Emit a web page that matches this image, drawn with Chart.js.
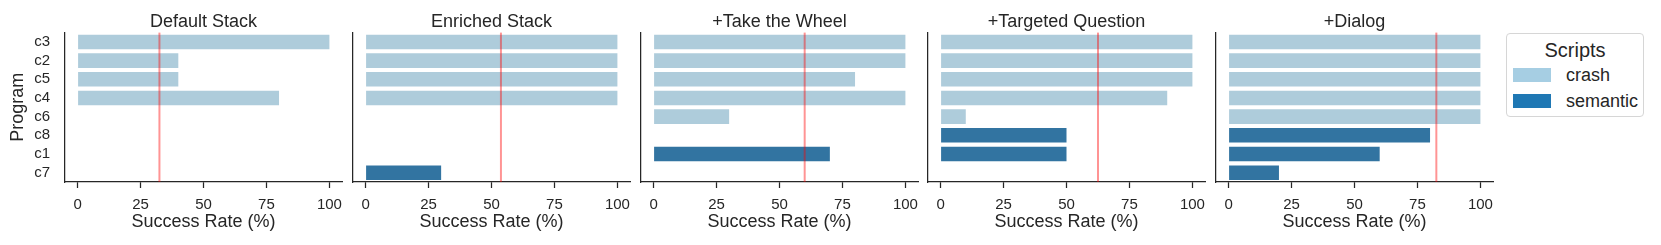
<!DOCTYPE html>
<html>
<head>
<meta charset="utf-8">
<script src="https://cdn.jsdelivr.net/npm/chart.js@4.4.0/dist/chart.umd.min.js"></script>
<style>
  body { margin: 0; background: #fff; width: 1661px; height: 245px; position: relative; overflow: hidden;
         font-family: 'Liberation Sans', Arial, sans-serif; color: #262626; }
  canvas { position: absolute; top: 0; }
  #legend { position: absolute; left: 1506px; top: 33px; width: 138px; height: 84px;
            border: 1px solid #d6d6d6; border-radius: 4px; box-sizing: border-box; }
  #legend .ttl { position: absolute; left: 0; right: 0; top: 4px; text-align: center; font-size: 20px; line-height: 24px; }
  #legend .row { position: absolute; left: 6px; height: 20px; font-size: 18px; line-height: 20px; }
  #legend .sw { position: absolute; left: 0; top: 3px; width: 38px; height: 14px; }
  #legend .lb { position: absolute; left: 53px; top: 0; white-space: nowrap; }
</style>
</head>
<body>
<div id="legend">
  <div class="ttl">Scripts</div>
</div>
<script>
// data
const programs = ['c3', 'c2', 'c5', 'c4', 'c6', 'c8', 'c1', 'c7'];
const scriptType = ['crash', 'crash', 'crash', 'crash', 'crash', 'semantic', 'semantic', 'semantic'];
const scriptKinds = ['crash', 'semantic'];
const panelTitles = ['Default Stack', 'Enriched Stack', '+Take the Wheel', '+Targeted Question', '+Dialog'];
const defaultStack = [100, 40, 40, 80, 0, 0, 0, 0];
const enrichedStack = [100, 100, 100, 100, 0, 0, 0, 30];
const takeTheWheel = [100, 100, 80, 100, 30, 0, 70, 0];
const targetedQuestion = [100, 100, 100, 90, 10, 50, 50, 0];
const dialog = [100, 100, 100, 100, 100, 80, 60, 20];
const xTicks = [0, 25, 50, 75, 100];

const panelValues = [defaultStack, enrichedStack, takeTheWheel, targetedQuestion, dialog];

const barColors = { crash: '#aeccdb', semantic: '#3274a1' };
const legendColors = { crash: '#a6cee3', semantic: '#1f78b4' };
const ink = '#262626';
const font = "'Liberation Sans', Arial, sans-serif";

// legend
const legend = document.getElementById('legend');
scriptKinds.forEach((k, i) => {
  const row = document.createElement('div');
  row.className = 'row';
  row.style.top = (31 + i * 26) + 'px';
  row.innerHTML = '<span class="sw" style="background:' + legendColors[k] + '"></span><span class="lb">' + k + '</span>';
  legend.appendChild(row);
});

// red mean line
const meanLine = {
  id: 'meanLine',
  afterDatasetsDraw(chart, args, opts) {
    const ctx = chart.ctx;
    const x = chart.scales.x.getPixelForValue(opts.value);
    const { top, bottom } = chart.chartArea;
    ctx.save();
    ctx.strokeStyle = 'rgba(255, 0, 0, 0.42)';
    ctx.lineWidth = 2;
    ctx.beginPath();
    ctx.moveTo(x, top);
    ctx.lineTo(x, bottom);
    ctx.stroke();
    ctx.restore();
  }
};

const plotW = 276.7;
const rightPad = 16;

panelValues.forEach((vals, i) => {
  const axisX = 65 + 287.75 * i;
  const yw = i === 0 ? 65 : 8;
  const cv = document.createElement('canvas');
  const w = Math.round(yw + plotW + rightPad);
  cv.width = w; cv.height = 245;
  cv.style.left = (axisX - yw) + 'px';
  cv.style.width = w + 'px'; cv.style.height = '245px';
  document.body.appendChild(cv);

  const datasets = scriptKinds.map(k => ({
    label: k,
    data: vals.map((v, j) => scriptType[j] === k ? v : null),
    backgroundColor: barColors[k],
    borderWidth: 0,
    barPercentage: 0.78,
    categoryPercentage: 1
  }));
  const mean = vals.reduce((a, b) => a + b, 0) / vals.length;

  new Chart(cv, {
    type: 'bar',
    data: { labels: programs, datasets },
    plugins: [meanLine],
    options: {
      indexAxis: 'y',
      responsive: false,
      animation: false,
      grouped: false,
      layout: { padding: { left: 0, right: rightPad, top: 0, bottom: 0 } },
      plugins: {
        legend: { display: false },
        tooltip: { enabled: false },
        title: {
          display: true, text: panelTitles[i], fullSize: false,
          color: ink, font: { family: font, size: 18, weight: 'normal', lineHeight: 1.2 },
          padding: { top: 11, bottom: 0 }
        },
        meanLine: { value: mean }
      },
      scales: {
        x: {
          type: 'linear', min: -5, max: 105,
          afterBuildTicks: s => { s.ticks = xTicks.map(v => ({ value: v })); },
          afterFit: s => { s.height = 63; },
          grid: { drawOnChartArea: false, drawTicks: true, tickLength: 6, tickColor: ink, tickWidth: 1.25 },
          border: { display: true, color: ink, width: 1.25 },
          ticks: { color: ink, font: { family: font, size: 15 }, padding: 8, maxRotation: 0, autoSkip: false },
          title: { display: true, text: 'Success Rate (%)', color: ink,
                   font: { family: font, size: 18, lineHeight: 1.2 }, padding: { top: 0, bottom: 12 } }
        },
        y: {
          type: 'category',
          afterFit: s => { s.width = yw; },
          grid: { drawOnChartArea: false, drawTicks: false },
          border: { display: true, color: ink, width: 1.25 },
          ticks: { display: i === 0, color: ink, font: { family: font, size: 15 }, padding: 15, autoSkip: false },
          title: { display: i === 0, text: 'Program', color: ink,
                   font: { family: font, size: 18, lineHeight: 1.2 }, padding: { top: 7, bottom: 0 } }
        }
      }
    }
  });
});
</script>
</body>
</html>
